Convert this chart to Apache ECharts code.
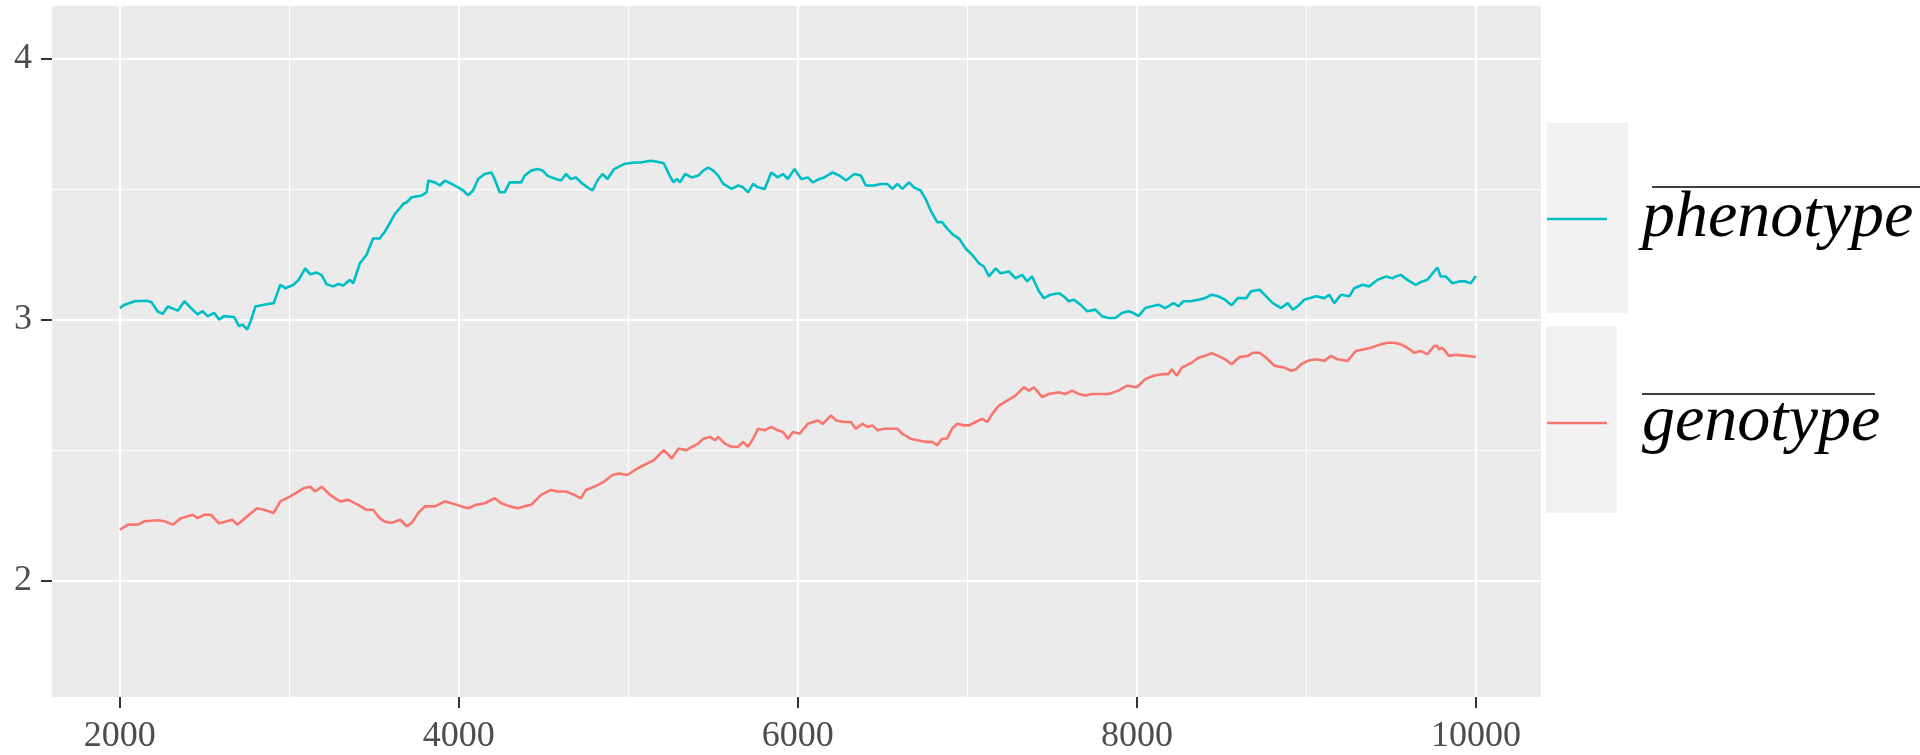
<!DOCTYPE html>
<html>
<head>
<meta charset="utf-8">
<script src="https://cdn.jsdelivr.net/npm/echarts@6/dist/echarts.min.js"></script>
<style>
html,body{margin:0;padding:0;background:#ffffff;}
#chart{width:1920px;height:755px;}
</style>
</head>
<body>
<div id="chart"></div>
<script>
// ---- data ----
const seriesNames = ['phenotype', 'genotype'];
const xTickValues = [2000, 4000, 6000, 8000, 10000];
const xMinorValues = [3000, 5000, 7000, 9000];
const yTickValues = [2, 3, 4];
const yMinorValues = [2.5, 3.5];

const phenoX = [2000,2029,2088,2156,2186,2225,2254,2283,2342,2381,2420,2459,2488,2518,2557,2586,2615,2674,2703,2723,2752,2772,2800,2850,2908,2947,2977,3025,3055,3094,3123,3162,3191,3220,3260,3289,3318,3357,3377,3416,3455,3494,3533,3562,3585,3624,3673,3693,3722,3781,3810,3820,3859,3888,3918,3957,3996,4026,4055,4084,4114,4153,4192,4211,4241,4270,4300,4339,4368,4387,4427,4466,4495,4524,4573,4603,4632,4661,4691,4720,4759,4789,4818,4847,4877,4916,4975,5033,5072,5131,5170,5209,5239,5266,5286,5305,5335,5374,5413,5442,5472,5501,5530,5560,5609,5648,5677,5706,5736,5765,5804,5843,5882,5912,5941,5980,6020,6059,6088,6127,6156,6205,6245,6284,6333,6372,6401,6450,6489,6528,6558,6587,6616,6656,6685,6724,6753,6783,6822,6851,6881,6915,6951,6990,7029,7069,7098,7127,7167,7196,7245,7284,7324,7353,7382,7422,7451,7490,7539,7569,7598,7628,7667,7706,7755,7794,7833,7873,7912,7951,7980,8010,8049,8088,8127,8167,8216,8245,8275,8314,8363,8402,8441,8480,8520,8559,8596,8645,8674,8724,8763,8802,8851,8890,8920,8949,8988,9018,9057,9106,9135,9165,9204,9253,9282,9331,9371,9420,9469,9508,9527,9557,9596,9645,9684,9714,9753,9773,9792,9822,9861,9900,9939,9969,10000];
const phenoY = [3.044,3.057,3.070,3.072,3.067,3.030,3.022,3.050,3.034,3.070,3.044,3.020,3.032,3.013,3.025,3.000,3.013,3.010,2.975,2.981,2.962,2.994,3.050,3.057,3.063,3.133,3.120,3.133,3.152,3.196,3.173,3.180,3.170,3.135,3.127,3.136,3.130,3.152,3.139,3.215,3.247,3.310,3.310,3.335,3.360,3.405,3.443,3.449,3.468,3.475,3.487,3.532,3.525,3.513,3.532,3.519,3.506,3.494,3.475,3.494,3.538,3.557,3.563,3.538,3.487,3.487,3.525,3.525,3.525,3.550,3.570,3.576,3.570,3.550,3.538,3.532,3.557,3.538,3.544,3.525,3.506,3.494,3.532,3.557,3.538,3.576,3.595,3.601,3.601,3.608,3.604,3.598,3.557,3.525,3.538,3.525,3.557,3.544,3.551,3.570,3.582,3.570,3.551,3.519,3.500,3.513,3.506,3.487,3.519,3.506,3.500,3.563,3.544,3.557,3.538,3.576,3.538,3.544,3.525,3.538,3.544,3.563,3.551,3.532,3.557,3.551,3.513,3.513,3.519,3.519,3.500,3.519,3.500,3.525,3.506,3.494,3.462,3.418,3.373,3.373,3.348,3.325,3.310,3.272,3.247,3.215,3.203,3.165,3.196,3.177,3.184,3.158,3.171,3.146,3.165,3.108,3.082,3.095,3.101,3.089,3.070,3.076,3.057,3.032,3.038,3.013,3.006,3.006,3.025,3.032,3.025,3.013,3.044,3.051,3.057,3.044,3.063,3.051,3.070,3.070,3.076,3.082,3.095,3.089,3.076,3.055,3.082,3.082,3.108,3.114,3.089,3.063,3.044,3.063,3.038,3.051,3.076,3.082,3.089,3.082,3.095,3.063,3.095,3.089,3.120,3.133,3.127,3.152,3.165,3.158,3.165,3.171,3.152,3.133,3.146,3.152,3.184,3.199,3.165,3.165,3.139,3.146,3.146,3.139,3.167];

const genoX = [2000,2049,2107,2146,2225,2264,2312,2361,2430,2459,2498,2537,2586,2664,2693,2752,2810,2850,2908,2947,3006,3084,3123,3152,3191,3240,3299,3348,3406,3455,3494,3533,3566,3605,3654,3693,3722,3761,3800,3859,3918,3957,4016,4055,4104,4153,4211,4251,4300,4348,4387,4427,4485,4544,4583,4632,4681,4720,4750,4798,4857,4906,4945,4994,5053,5111,5151,5180,5209,5239,5256,5295,5344,5374,5413,5442,5481,5511,5530,5569,5609,5648,5677,5706,5736,5765,5804,5843,5882,5912,5941,5971,6010,6059,6117,6147,6196,6225,6274,6313,6342,6381,6411,6440,6470,6509,6548,6587,6616,6665,6705,6753,6792,6822,6851,6881,6910,6941,6980,7010,7049,7088,7118,7147,7186,7235,7284,7333,7363,7392,7441,7480,7539,7578,7618,7657,7696,7735,7775,7833,7892,7941,8000,8049,8098,8147,8186,8206,8235,8265,8324,8363,8402,8441,8480,8520,8559,8606,8655,8684,8724,8763,8812,8871,8910,8939,8969,9008,9057,9106,9145,9184,9243,9292,9341,9380,9439,9478,9518,9557,9596,9635,9675,9714,9753,9773,9782,9802,9841,9880,9949,10000];
const genoY = [2.196,2.215,2.215,2.228,2.232,2.228,2.215,2.240,2.253,2.240,2.253,2.253,2.220,2.234,2.215,2.247,2.278,2.272,2.260,2.304,2.323,2.354,2.360,2.342,2.360,2.329,2.304,2.310,2.291,2.272,2.272,2.240,2.226,2.222,2.234,2.209,2.222,2.260,2.285,2.285,2.304,2.297,2.285,2.278,2.291,2.297,2.316,2.297,2.285,2.278,2.285,2.291,2.329,2.348,2.342,2.342,2.329,2.316,2.348,2.360,2.380,2.405,2.411,2.405,2.430,2.449,2.462,2.481,2.500,2.481,2.468,2.506,2.500,2.513,2.525,2.544,2.551,2.538,2.551,2.525,2.513,2.513,2.532,2.513,2.544,2.582,2.576,2.589,2.576,2.570,2.544,2.570,2.563,2.601,2.614,2.601,2.633,2.614,2.608,2.608,2.582,2.601,2.589,2.595,2.576,2.582,2.582,2.582,2.563,2.544,2.538,2.532,2.532,2.519,2.544,2.545,2.583,2.601,2.595,2.595,2.608,2.620,2.608,2.639,2.671,2.690,2.709,2.741,2.728,2.741,2.703,2.715,2.722,2.715,2.728,2.715,2.709,2.715,2.715,2.715,2.728,2.747,2.741,2.772,2.785,2.791,2.791,2.810,2.785,2.816,2.835,2.854,2.861,2.871,2.861,2.848,2.829,2.857,2.861,2.873,2.873,2.854,2.823,2.816,2.804,2.810,2.829,2.842,2.848,2.842,2.861,2.848,2.842,2.880,2.886,2.892,2.905,2.911,2.911,2.905,2.892,2.873,2.880,2.867,2.899,2.899,2.886,2.892,2.861,2.865,2.861,2.857];

// ---- chart ----
const FONT = 'Liberation Serif';
const pairs = (xs, ys) => xs.map((x, i) => [x, ys[i]]);

const gridLines = [];
xTickValues.forEach(v => gridLines.push({ xAxis: v, lineStyle: { width: 2 } }));
xMinorValues.forEach(v => gridLines.push({ xAxis: v, lineStyle: { width: 1 } }));
yTickValues.forEach(v => gridLines.push({ yAxis: v, lineStyle: { width: 2 } }));
yMinorValues.forEach(v => gridLines.push({ yAxis: v, lineStyle: { width: 1 } }));

const chart = echarts.init(document.getElementById('chart'), null, { renderer: 'canvas' });
chart.setOption({
  animation: false,
  backgroundColor: '#ffffff',
  grid: {
    left: 52, right: 379, top: 6, bottom: 53,
    show: true, backgroundColor: '#ebebeb', borderWidth: 0
  },
  xAxis: {
    type: 'value', min: 1600, max: 10384,
    axisLine: { show: false },
    splitLine: { show: false },
    axisTick: { show: true, customValues: xTickValues, length: 11, lineStyle: { color: '#333333', width: 2 } },
    axisLabel: {
      customValues: xTickValues, fontFamily: FONT, fontSize: 36, color: '#4d4d4d', margin: 22,
      formatter: v => String(v)
    }
  },
  yAxis: {
    type: 'value', min: 1.5555, max: 4.2,
    axisLine: { show: false },
    splitLine: { show: false },
    axisTick: { show: true, customValues: yTickValues, length: 11, lineStyle: { color: '#333333', width: 2 } },
    axisLabel: { customValues: yTickValues, fontFamily: FONT, fontSize: 36, color: '#4d4d4d', margin: 20, formatter: v => String(v) }
  },
  legend: {
    data: [
      { name: 'phenotype', icon: 'rect' },
      { name: 'genotype', icon: 'rect' }
    ],
    orient: 'vertical',
    left: 1547, top: 186, padding: 0,
    itemWidth: 60, itemHeight: 2.5,
    itemGap: 138,
    selectedMode: false,
    textStyle: {
      fontFamily: FONT, fontStyle: 'italic', fontSize: 66, color: '#000000',
      lineHeight: 64, padding: [0, 0, 0, 30]
    }
  },
  graphic: [
    { type: 'rect', z: -1, shape: { x: 1547, y: 123, width: 81, height: 190 }, style: { fill: '#f2f2f2' }, silent: true },
    { type: 'rect', z: -1, shape: { x: 1546, y: 326, width: 71, height: 187 }, style: { fill: '#f2f2f2' }, silent: true },
    { type: 'line', shape: { x1: 1652, y1: 187, x2: 1925, y2: 187 }, style: { stroke: '#000000', lineWidth: 1.6 }, silent: true },
    { type: 'line', shape: { x1: 1642, y1: 394, x2: 1875, y2: 394 }, style: { stroke: '#000000', lineWidth: 1.6 }, silent: true }
  ],
  series: [
    {
      name: 'phenotype', type: 'line', data: pairs(phenoX, phenoY),
      showSymbol: false, symbol: 'none', z: 3,
      lineStyle: { color: '#00BFC4', width: 2.6 }, itemStyle: { color: '#00BFC4' }
    },
    {
      name: 'genotype', type: 'line', data: pairs(genoX, genoY),
      showSymbol: false, symbol: 'none', z: 3,
      lineStyle: { color: '#F8766D', width: 2.6 }, itemStyle: { color: '#F8766D' },
      markLine: {
        silent: true, z: 1, symbol: ['none', 'none'], animation: false,
        label: { show: false },
        lineStyle: { color: '#ffffff', type: 'solid', width: 1 },
        emphasis: { disabled: true },
        data: gridLines
      }
    }
  ]
});
</script>
</body>
</html>
